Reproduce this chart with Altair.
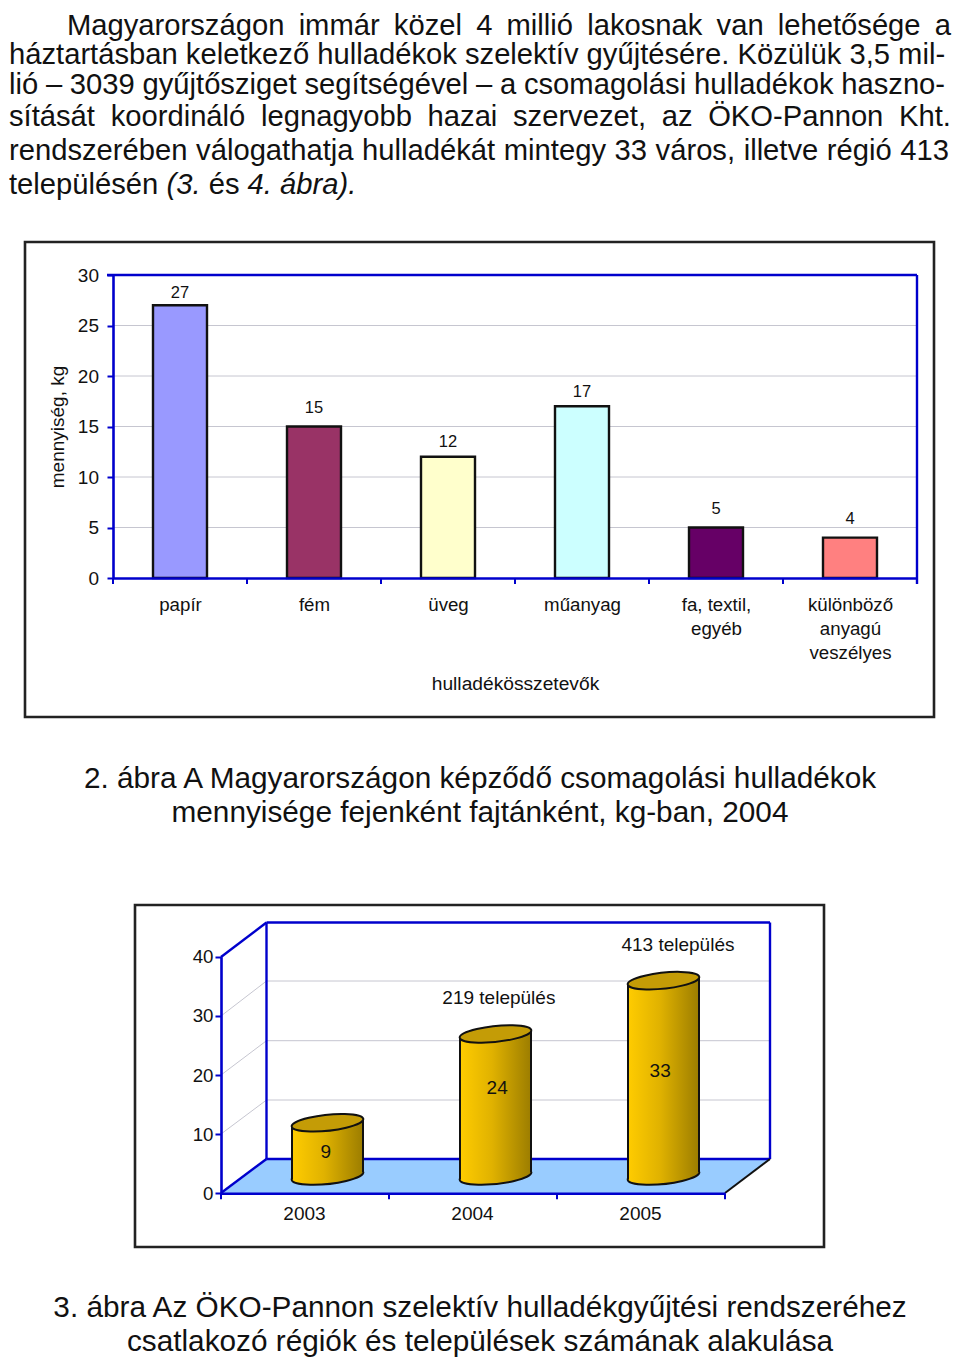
import altair as alt
import pandas as pd

# ---------------- values ----------------
PARAGRAPH = [
    "Magyarországon immár közel 4 millió lakosnak van lehetősége a",
    "háztartásban keletkező hulladékok szelektív gyűjtésére. Közülük 3,5 mil-",
    "lió – 3039 gyűjtősziget segítségével – a csomagolási hulladékok haszno-",
    "sítását koordináló legnagyobb hazai szervezet, az ÖKO-Pannon Kht.",
    "rendszerében válogathatja hulladékát mintegy 33 város, illetve régió 413",
    "településén (3. és 4. ábra).",
]
ITALIC_WORDS = ["(3.", "4.", "ábra)."]
CAPTION_1 = ["2. ábra A Magyarországon képződő csomagolási hulladékok",
             "mennyisége fejenként fajtánként, kg-ban, 2004"]
CAPTION_2 = ["3. ábra Az ÖKO-Pannon szelektív hulladékgyűjtési rendszeréhez",
             "csatlakozó régiók és települések számának alakulása"]

CATEGORIES = ["papír", "fém", "üveg", "műanyag", "fa, textil,|egyéb", "különböző|anyagú|veszélyes"]
AMOUNTS = [27, 15, 12, 17, 5, 4]
BAR_COLORS = ["#9999ff", "#993366", "#ffffcc", "#ccffff", "#660066", "#ff8080"]
LABEL_HEIGHT_A = [28.25, 16.85, 13.5, 18.45, 6.88, 5.89]

YEARS = ["2003", "2004", "2005"]
TOWNS = [9, 24, 33]
VALUE_SLOT = [0.49, 1.51, 2.48]
VALUE_HEIGHT = [4.05, 14.9, 17.8]
TOP_LABELS = ["219 település", "413 település"]
TOP_SLOT = [1.52, 2.586]
TOP_HEIGHT = [30.1, 39.0]

# ---------------- layout helpers ----------------
FONT = "Liberation Sans"
BLUE = "#0000cc"
GRID = "#c6c6d0"
W, H = 944, 1351
PX = alt.Scale(domain=[0, 960], range=[-8, 952], nice=False, zero=False)
PY = alt.Scale(domain=[0, 1359], range=[-8, 1351], nice=False, zero=False)
TX = alt.Scale(domain=[0, 960], range=[0, 944], nice=False, zero=False)  # paragraph fits inside the page margins
ONE = pd.DataFrame({"a": [0]})

# Arial advance widths
WD = dict(a=556, b=556, c=500, d=556, e=556, f=278, g=556, h=556, i=222, j=222, k=500, l=222, m=833, n=556,
          o=556, p=556, q=556, r=333, s=500, t=278, u=556, v=500, w=722, x=500, y=500, z=500)
WD.update({"á": 556, "é": 556, "í": 278, "ö": 556, "ő": 556, "ü": 556, "ű": 556, "ú": 556, ",": 278, ".": 278,
           "-": 333, "–": 556, "(": 333, ")": 333, "K": 667, "M": 833, "Ö": 778, "O": 778, "P": 667})
for ch in "0123456789":
    WD[ch] = 556


def text_width(word, size):
    return sum(WD.get(c, 556) for c in word) * size / 1000


FS = 29.7
LEFT = [60, 1, 1, 1, 1, 1]
RIGHT = [959, 953, 953, 959, 957, None]
BASELINES = [35, 64, 94, 126, 160, 194]  # the first lines sit a little lower so the page edge does not cut them
words = []
for ln, line in enumerate(PARAGRAPH):
    parts = line.split(" ")
    total = sum(text_width(p, FS) for p in parts)
    gap = 0.278 * FS if RIGHT[ln] is None else (RIGHT[ln] - LEFT[ln] - total) / (len(parts) - 1)
    xpos = LEFT[ln]
    for p in parts:
        italic = ln == 5 and p in ITALIC_WORDS
        words.append({"t": p, "x": xpos, "y": BASELINES[ln], "it": italic})
        xpos += text_width(p, FS) + gap
words = pd.DataFrame(words)


def para_layer(df, style):
    return alt.Chart(df).mark_text(font=FONT, fontSize=29.2, fontStyle=style, align="left",
                                   baseline="alphabetic", color="#111").encode(
        x=alt.X("x:Q", scale=TX, axis=None), y=alt.Y("y:Q", scale=PY, axis=None), text="t:N")


para = para_layer(words[~words["it"]], "normal")
para_it = para_layer(words[words["it"]], "italic")

caps = pd.DataFrame({"t": CAPTION_1 + CAPTION_2, "x": [480, 480, 480, 480], "y": [788, 822, 1317, 1351]})
captions = alt.Chart(caps).mark_text(font=FONT, fontSize=29.75, align="center", baseline="alphabetic", color="#111").encode(
    x=alt.X("x:Q", scale=PX, axis=None), y=alt.Y("y:Q", scale=PY, axis=None), text="t:N")

frames_df = pd.DataFrame({"x": [25, 135], "x2": [934, 824], "y": [242, 905], "y2": [717, 1247]})
frames = alt.Chart(frames_df).mark_rect(fillOpacity=0, stroke="#222", strokeWidth=2.6).encode(
    x=alt.X("x:Q", scale=PX, axis=None), x2="x2:Q", y=alt.Y("y:Q", scale=PY, axis=None), y2="y2:Q")

# ---------------- chart A ----------------
AY = alt.Scale(domain=[0, 30], range=[578 - 8, 275 - 8], nice=False)
AX = alt.Scale(domain=CATEGORIES, range=[113 - 8, 917 - 8], paddingInner=0, paddingOuter=0)
AS = alt.Scale(domain=[0, 6], range=[113 - 8, 917 - 8], nice=False, zero=False)
a_df = pd.DataFrame({"c": CATEGORIES, "v": AMOUNTS, "h": LABEL_HEIGHT_A})

a_grid = alt.Chart(pd.DataFrame({"g": [5, 10, 15, 20, 25]})).mark_rule(color=GRID, strokeWidth=1).encode(
    y=alt.Y("g:Q", scale=AY, axis=None), x=alt.value(105), x2=alt.value(909))
a_box = alt.Chart(pd.DataFrame({"g": [30]})).mark_rule(color=BLUE, strokeWidth=2.4).encode(
    y=alt.Y("g:Q", scale=AY, axis=None), x=alt.value(99), x2=alt.value(909))
a_right = alt.Chart(ONE).mark_rule(color=BLUE, strokeWidth=2.4).encode(
    x=alt.value(909), y=alt.value(267), y2=alt.value(576))
a_bars = alt.Chart(a_df).mark_bar(size=54, stroke="#111", strokeWidth=2.4).encode(
    x=alt.X("c:N", scale=AX, sort=None, axis=None),
    y=alt.Y("v:Q", scale=AY, axis=None),
    color=alt.Color("c:N", scale=alt.Scale(domain=CATEGORIES, range=BAR_COLORS), legend=None))
a_labels = alt.Chart(a_df).mark_text(font=FONT, fontSize=16.5, color="#111", baseline="middle").encode(
    x=alt.X("c:N", scale=AX, sort=None, axis=None), y=alt.Y("h:Q", scale=AY, axis=None), text="v:Q")
a_yaxis = alt.Chart(a_df).mark_point(opacity=0).encode(
    y=alt.Y("v:Q", scale=AY, axis=alt.Axis(
        orient="left", offset=-105, values=[0, 5, 10, 15, 20, 25, 30], grid=False, zindex=1,
        domainColor=BLUE, domainWidth=2.6, tickColor=BLUE, tickWidth=2, tickSize=6,
        labelFont=FONT, labelFontSize=19, labelColor="#111", labelPadding=8.5,
        title="mennyiség, kg", titleFont=FONT, titleFontSize=19, titleFontWeight="normal",
        titleColor="#111", titlePadding=9.5)))
a_xaxis = alt.Chart(a_df).mark_point(opacity=0).encode(
    x=alt.X("c:N", scale=AX, sort=None, axis=alt.Axis(
        orient="bottom", offset=570 - H, grid=False, labelAngle=0, ticks=False, zindex=1,
        domainColor=BLUE, domainWidth=2.6, labelExpr="split(datum.label, '|')",
        labelFont=FONT, labelFontSize=18.7, labelColor="#111", labelPadding=17, labelLineHeight=24,
        labelBaseline="top", labelLimit=300,
        title="hulladékösszetevők", titleFont=FONT, titleFontSize=19.2, titleFontWeight="normal",
        titleColor="#111", titleY=111, titleBaseline="alphabetic")))
a_ticks = alt.Chart(pd.DataFrame({"i": range(7)})).mark_rule(color=BLUE, strokeWidth=2).encode(
    x=alt.X("i:Q", scale=AS, axis=None), y=alt.value(570), y2=alt.value(576))

# ---------------- chart B ----------------
BY = alt.Scale(domain=[0, 40], range=[1193.3 - 8, 956.7 - 8], nice=False)
BC = alt.Scale(domain=[0, 40], range=[1176 - 8, 939.2 - 8], nice=False)     # mid-depth of the 3D box
BX = alt.Scale(domain=YEARS, range=[221 - 8, 725 - 8], paddingInner=0, paddingOuter=0)
BT = alt.Scale(domain=[0, 3], range=[221 - 8, 725 - 8], nice=False, zero=False)
BS = alt.Scale(domain=[0, 3], range=[243.5 - 8, 747.5 - 8], nice=False, zero=False)

floor = alt.Chart(pd.DataFrame({"y": [1159, 1193], "x": [266.5, 221], "x2": [770, 725]})).mark_area(
    orient="horizontal", color="#99ccff", opacity=1).encode(
    y=alt.Y("y:Q", scale=PY, axis=None), x=alt.X("x:Q", scale=PX, axis=None), x2="x2:Q")

wall_grid_df = pd.DataFrame({
    "x": [221, 221, 221, 266.5, 266.5, 266.5], "x2": [266.5, 266.5, 266.5, 770, 770, 770],
    "y": [1134, 1075, 1016, 1100, 1040.7, 981], "y2": [1100, 1040.7, 981, 1100, 1040.7, 981]})
wall_grid = alt.Chart(wall_grid_df).mark_rule(color=GRID, strokeWidth=1).encode(
    x=alt.X("x:Q", scale=PX, axis=None), x2="x2:Q", y=alt.Y("y:Q", scale=PY, axis=None), y2="y2:Q")

edges_df = pd.DataFrame({
    "x": [221, 221, 266.5, 266.5, 770, 266.5], "x2": [266.5, 266.5, 770, 266.5, 770, 770],
    "y": [957, 1193, 922.5, 922.5, 922.5, 1159], "y2": [922.5, 1159, 922.5, 1159, 1159, 1159]})
edges = alt.Chart(edges_df).mark_rule(color=BLUE, strokeWidth=2.4).encode(
    x=alt.X("x:Q", scale=PX, axis=None), x2="x2:Q", y=alt.Y("y:Q", scale=PY, axis=None), y2="y2:Q")
edge_black = alt.Chart(pd.DataFrame({"x": [725], "x2": [770], "y": [1193], "y2": [1159]})).mark_rule(
    color="#111", strokeWidth=2).encode(
    x=alt.X("x:Q", scale=PX, axis=None), x2="x2:Q", y=alt.Y("y:Q", scale=PY, axis=None), y2="y2:Q")

GOLD = alt.LinearGradient(gradient="linear", x1=0, x2=1, y1=0, y2=0, stops=[
    alt.GradientStop(color="#ffcc00", offset=0), alt.GradientStop(color="#e0b200", offset=0.45),
    alt.GradientStop(color="#9c7d00", offset=1)])
ELL = "M-0.9945,0.1045 A1,0.22 -6 1 1 0.9945,-0.1045 A1,0.22 -6 1 1 -0.9945,0.1045 Z"
HALF = 35.5 / 168
SHEAR = 3.8 / 5.92
rows = []
for i, (yr, v) in enumerate(zip(YEARS, TOWNS)):
    rows.append({"yr": yr, "s": i + 0.5 - HALF, "top": v - SHEAR, "base": -SHEAR})
    rows.append({"yr": yr, "s": i + 0.5 + HALF, "top": v + SHEAR, "base": SHEAR})
cyl = pd.DataFrame(rows)
ctr = pd.DataFrame({"yr": YEARS, "s": [0.5, 1.5, 2.5], "v": TOWNS, "z": [0, 0, 0]})

c_bottom = alt.Chart(ctr).mark_point(shape=ELL, size=5184, filled=True, fill=GOLD, stroke="#111",
                                     strokeWidth=2, opacity=1).encode(
    x=alt.X("s:Q", scale=BS, axis=None), y=alt.Y("z:Q", scale=BC, axis=None))
c_body = alt.Chart(cyl).mark_area(color=GOLD, opacity=1).encode(
    x=alt.X("s:Q", scale=BS, axis=None), y=alt.Y("top:Q", scale=BC, axis=None, stack=None), y2="base:Q",
    detail="yr:N")
c_side = alt.Chart(cyl).mark_rule(color="#111", strokeWidth=2).encode(
    x=alt.X("s:Q", scale=BS, axis=None), y=alt.Y("top:Q", scale=BC, axis=None), y2="base:Q")
c_top = alt.Chart(ctr).mark_point(shape=ELL, size=5184, filled=True, fill="#c49c06", stroke="#111",
                                  strokeWidth=2, opacity=1).encode(
    x=alt.X("s:Q", scale=BS, axis=None), y=alt.Y("v:Q", scale=BC, axis=None))
c_vals = alt.Chart(pd.DataFrame({"s": VALUE_SLOT, "h": VALUE_HEIGHT, "t": TOWNS})).mark_text(
    font=FONT, fontSize=19, color="#111", baseline="middle").encode(
    x=alt.X("s:Q", scale=BS, axis=None), y=alt.Y("h:Q", scale=BC, axis=None), text="t:Q")
c_tops = alt.Chart(pd.DataFrame({"s": TOP_SLOT, "h": TOP_HEIGHT, "t": TOP_LABELS})).mark_text(
    font=FONT, fontSize=19, color="#111", baseline="middle").encode(
    x=alt.X("s:Q", scale=BS, axis=None), y=alt.Y("h:Q", scale=BC, axis=None), text="t:N")

b_yaxis = alt.Chart(ctr).mark_point(opacity=0).encode(
    y=alt.Y("v:Q", scale=BY, axis=alt.Axis(
        orient="left", offset=-213, values=[0, 10, 20, 30, 40], grid=False, title=None, zindex=1,
        domainColor=BLUE, domainWidth=2.6, tickColor=BLUE, tickWidth=2, tickSize=6,
        labelFont=FONT, labelFontSize=18.7, labelColor="#111", labelPadding=2)))
b_xaxis = alt.Chart(ctr).mark_point(opacity=0).encode(
    x=alt.X("yr:N", scale=BX, sort=None, axis=alt.Axis(
        orient="bottom", offset=1185.3 - H, grid=False, labelAngle=0, ticks=False, title=None, zindex=1,
        domainColor=BLUE, domainWidth=2.6, labelFont=FONT, labelFontSize=19, labelColor="#111",
        labelPadding=11, labelBaseline="top", labelOffset=-1)))
b_ticks = alt.Chart(pd.DataFrame({"i": range(4)})).mark_rule(color=BLUE, strokeWidth=2).encode(
    x=alt.X("i:Q", scale=BT, axis=None), y=alt.value(1185.3), y2=alt.value(1191.3))

chart = alt.layer(
    frames, para, para_it, captions,
    a_grid, a_box, a_right, a_bars, a_labels, a_yaxis, a_xaxis, a_ticks,
    floor, wall_grid, edges, edge_black, b_xaxis, b_ticks, b_yaxis,
    c_bottom, c_body, c_side, c_top, c_vals, c_tops,
).resolve_scale(x="independent", y="independent", color="independent").properties(
    width=W, height=H, padding=0, autosize=alt.AutoSizeParams(type="none"),
    background="white",
).configure_view(stroke=None)

chart.save("out.html", embed_options={"renderer": "svg", "actions": False})
